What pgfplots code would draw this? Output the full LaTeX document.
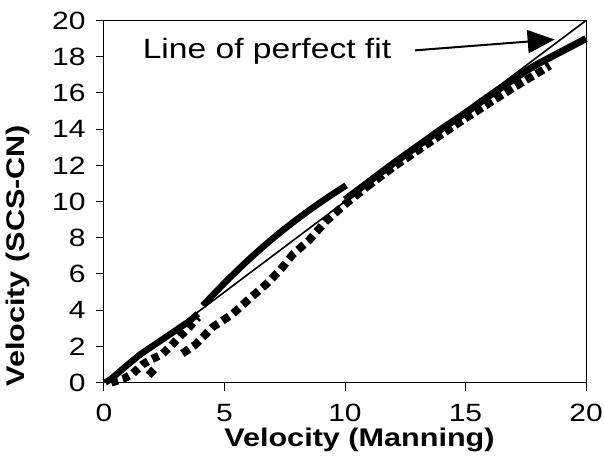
\documentclass[border=0pt]{standalone}
\usepackage{fontspec}
\setmainfont{Liberation Sans}[FakeStretch=1.2]
\usepackage{pgfplots}
\pgfplotsset{compat=1.18}
\usetikzlibrary{arrows.meta}
\begin{document}
\begin{tikzpicture}
\path[use as bounding box] (-104pt,-80.5pt) rectangle (500pt,382.5pt);
\begin{axis}[
  at={(0,0)}, anchor=south west,
  scale only axis, width=482pt, height=362pt,
  xmin=0, xmax=20, ymin=0, ymax=20,
  xtick={0,5,10,15,20}, ytick={0,2,...,20},
  tick align=outside, tick pos=left,
  major tick length=8pt,
  axis line style={line width=1pt},
  every tick/.style={black, line width=1pt},
  /pgf/number format/assume math mode=true,
  tick label style={font=\fontsize{25}{25}\selectfont},
  xticklabel style={yshift=-10pt},
  yticklabel style={xshift=-7pt},
  xlabel={\bfseries Velocity (Manning)},
  ylabel={\bfseries Velocity (SCS-CN)},
  label style={font=\fontsize{25.5}{25.5}\selectfont},
  xlabel style={at={(axis description cs:0.53,-0.16)}, anchor=center},
  ylabel style={at={(axis description cs:-0.178,0.35)}, anchor=center, rotate=0},
  clip=false,
]
% line of perfect fit
\addplot[black, line width=1.6pt] coordinates {(0,0) (20,20)};
% solid curve, lower part
\addplot[black, line width=6.5pt] coordinates {
(0.05,0.0) (0.3,0.2) (0.6,0.55) (1.0,1.0) (1.5,1.55) (2.0,2.0) (2.5,2.45) (3.0,2.9) (3.5,3.35) (3.9,3.8)};
\addplot[black, line width=6.5pt, smooth] coordinates {
(4.1,4.25) (4.6,4.95) (5.2,5.76) (5.9,6.66) (6.6,7.5) (7.3,8.28) (8.0,9.01) (8.7,9.69) (9.4,10.33) (10.05,10.89)};
% solid curve, upper part
\addplot[black, line width=7pt, smooth] coordinates {
(10.0,10.1) (11,11.1) (12,12.1) (13,13.05) (14,14.0) (15,14.9) (16,15.85) (17,16.75) (17.5,17.2) (18,17.6) (19,18.3) (20,19.0)};
% dotted series
\addplot[black, line width=8pt, dash pattern=on 7pt off 5pt] coordinates {
(0.3,0.0) (0.8,0.2) (1.2,0.5) (1.6,1.0) (2.0,1.3) (2.4,1.55) (2.8,2.05) (3.15,2.55) (3.5,3.0) (3.9,3.6)};
\addplot[black, line width=8pt, dash pattern=on 8pt off 5pt] coordinates {
(1.85,0.4) (2.1,0.75)};
\addplot[black, line width=8pt, dash pattern=on 8pt off 5pt] coordinates {
(3.25,1.6) (3.8,2.1) (4.5,3.05) (5.35,3.8) (6.05,4.65) (6.75,5.45) (7.3,6.2) (7.85,7.1) (8.5,7.85) (9.2,8.9) (10.05,9.9) (10.9,10.8)};
\addplot[black, line width=8pt, dash pattern=on 8pt off 4pt] coordinates {
(10.9,10.8) (12,11.9) (13,12.8) (14,13.7) (15,14.6) (16,15.45) (17,16.3) (18,17.1) (18.5,17.5)};
% annotation
\node[anchor=base west, font=\fontsize{28}{28}\selectfont, inner sep=0pt] at (axis cs:1.6,17.9) {Line of perfect fit};
\draw[black, line width=2pt, -{Triangle[length=27pt,width=23pt]}] (axis cs:12.9,18.35) -- (axis cs:18.7,18.95);
\end{axis}
\end{tikzpicture}
\end{document}
